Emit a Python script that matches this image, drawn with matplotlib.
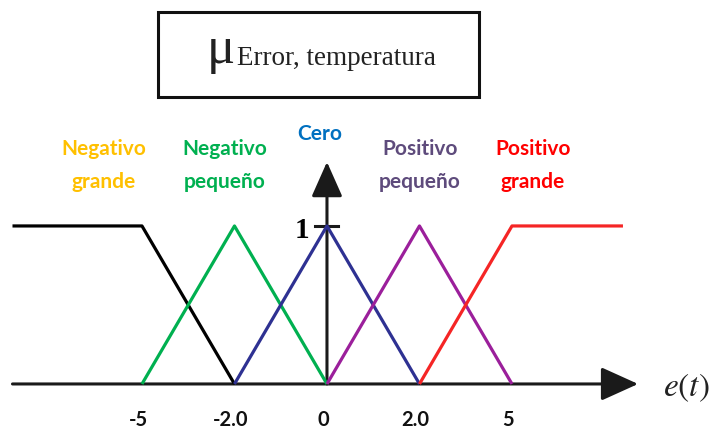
import numpy as np
import matplotlib
matplotlib.use("Agg")
import matplotlib.pyplot as plt
from matplotlib.patches import FancyArrowPatch, Rectangle
from matplotlib.transforms import offset_copy

plt.rcParams['mathtext.fontset'] = 'stix'

# ---- data ----
tick_values = [-5, -2, 0, 2, 5]
tick_labels = ["-5", "-2.0", "0", "2.0", "5"]

mf_names = ["Negativo\ngrande", "Negativo\npequeño", "Cero", "Positivo\npequeño", "Positivo\ngrande"]
mf_x = [
    [-9.2, -5, -2],      # Negativo grande
    [-5, -2, 0],         # Negativo pequeño
    [-2, 0, 2],          # Cero
    [0, 2, 5],           # Positivo pequeño
    [2, 5, 8.6],         # Positivo grande
]
mf_y = [
    [1, 1, 0],
    [0, 1, 0],
    [0, 1, 0],
    [0, 1, 0],
    [0, 1, 1],
]
line_colors = ["#000000", "#00B050", "#2E3192", "#9B1F9B", "#F52525"]
label_colors = ["#FFC000", "#00B050", "#0070C0", "#5E4B7C", "#FF0000"]
# label anchor (x in e-units, y in membership units)
label_x = [-6.23, -2.31, -0.15, 2.02, 5.68]
label_y = [1.383, 1.383, 1.585, 1.383, 1.383]

# ---- piecewise-linear axis scale (ticks evenly spaced) ----
_vals = np.array([-50, -5, -2, 0, 2, 5, 50], dtype=float)
_pos = np.array([-17, -2, -1, 0, 1, 2, 17], dtype=float)

def fwd(x):
    return np.interp(x, _vals, _pos)

def inv(p):
    return np.interp(p, _pos, _vals)

fig = plt.figure(figsize=(7.15, 4.32), dpi=100)
ax = fig.add_axes([0, 0, 1, 1])
ax.set_xscale('function', functions=(fwd, inv))
ax.set_xlim(-9.605, 11.585)
ax.set_ylim(-0.304, 2.430)
ax.axis('off')

# membership functions
for xs, ys, c in zip(mf_x, mf_y, line_colors):
    ax.plot(xs, ys, color=c, lw=2.3, solid_capstyle='butt', zorder=3)

# axes arrows
xarrow = FancyArrowPatch((-9.2, 0), (9.09, 0),
                         arrowstyle='-|>,head_length=1.15,head_width=0.52',
                         mutation_scale=20, lw=2.2, color='#1a1a1a',
                         shrinkA=0, shrinkB=0, zorder=2)
ax.add_patch(xarrow)
yarrow = FancyArrowPatch((0, 0), (0, 1.405),
                         arrowstyle='-|>,head_length=1.08,head_width=0.48',
                         mutation_scale=20, lw=2.2, color='#1a1a1a',
                         shrinkA=0, shrinkB=0, zorder=2)
ax.add_patch(yarrow)
ax.plot([-0.26, 0.24], [1, 1], color='#1a1a1a', lw=2.2, zorder=2)
ax.text(-0.55, 0.97, "1", family='Liberation Serif', fontweight='bold',
        fontsize=21, ha='center', va='center')

# tick labels
tick_tr = offset_copy(ax.transData, fig=fig, x=-4, y=0, units='dots')
for v, t in zip(tick_values, tick_labels):
    ax.text(v, -0.23, t, family='Lato', fontweight='bold', fontsize=14.5,
            ha='center', va='center', color='#111111', transform=tick_tr)

# e(t)
ax.text(9.9, -0.02, r"$e(t)$", fontsize=24, ha='left', va='center', color='#222222')

# membership labels
for n, x, y, c in zip(mf_names, label_x, label_y, label_colors):
    ax.text(x, y, n, family='Lato', fontweight='bold', fontsize=15, color=c,
            ha='center', va='center', linespacing=1.85)

# title box
fig.patches.append(Rectangle((158 / 715, 1 - 97 / 432), (479 - 158) / 715, (97 - 12) / 432,
                             transform=fig.transFigure, fill=False, lw=2.2,
                             edgecolor='#111111'))
fig.text(221 / 715, 1 - 50 / 432, "μ", family='Liberation Serif', fontsize=38,
         ha='center', va='center', color='#222222')
fig.text(237 / 715, 1 - 65 / 432, "Error, temperatura", family='Liberation Serif',
         fontsize=19.5, ha='left', va='baseline', color='#222222')

fig.savefig("out.png", dpi=100, facecolor='white')
